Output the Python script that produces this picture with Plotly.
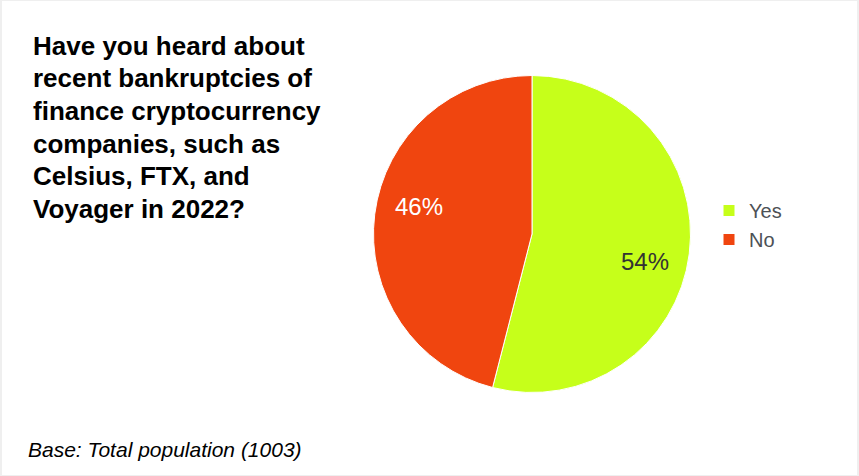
import math
import plotly.graph_objects as go

# ---- data ----
labels = ["Yes", "No"]
values = [54, 46]
colors = ["#c6ff1a", "#f0450f"]
label_colors = ["#333333", "#ffffff"]
title_lines = [
    "Have you heard about",
    "recent bankruptcies of",
    "finance cryptocurrency",
    "companies, such as",
    "Celsius, FTX, and",
    "Voyager in 2022?",
]
footer_text = "Base: Total population (1003)"

W, H = 859, 476
FONT = "Liberation Sans, Arial, sans-serif"


def px_x(x):
    return x / W


def px_y(y):
    return 1 - y / H


cx, cy, r = 532, 234, 158.5

fig = go.Figure(
    go.Pie(
        labels=labels,
        values=values,
        sort=False,
        direction="clockwise",
        rotation=0,
        marker=dict(colors=colors, line=dict(color="white", width=1)),
        textinfo="none",
        domain=dict(x=[px_x(cx - r), px_x(cx + r)], y=[px_y(cy + r), px_y(cy - r)]),
        hoverinfo="label+percent",
    )
)

annotations = []

# slice percentage labels placed along each slice's bisector (derived from values)
total = sum(values)
start = 0.0
label_r = 0.735 * r
angle_shift = 6.5  # degrees, label placement style
for v, col in zip(values, label_colors):
    frac = v / total
    mid = (start + frac / 2) * 360 + angle_shift
    start += frac
    lx = cx + label_r * math.sin(math.radians(mid))
    ly = cy - label_r * math.cos(math.radians(mid))
    annotations.append(
        dict(
            text=f"{round(frac * 100)}%",
            x=px_x(lx), y=px_y(ly),
            xref="paper", yref="paper",
            xanchor="center", yanchor="middle",
            showarrow=False,
            font=dict(family=FONT, size=24, color=col),
        )
    )

for i, line in enumerate(title_lines):
    baseline = 55 + i * 32.5
    annotations.append(
        dict(
            text=f"<b>{line}</b>",
            x=px_x(31), y=px_y(baseline - 9),
            xref="paper", yref="paper",
            xanchor="left", yanchor="middle",
            showarrow=False,
            font=dict(family=FONT, size=26, color="#000000"),
        )
    )
annotations.append(
    dict(
        text=f"<i>{footer_text}</i>",
        x=px_x(26), y=px_y(449),
        xref="paper", yref="paper",
        xanchor="left", yanchor="middle",
        showarrow=False,
        font=dict(family=FONT, size=21, color="#000000"),
    )
)

fig.update_layout(
    width=W,
    height=H,
    margin=dict(l=0, r=0, t=0, b=0),
    paper_bgcolor="#efefef",
    plot_bgcolor="white",
    showlegend=True,
    legend=dict(
        x=px_x(709), y=px_y(225),
        xanchor="left", yanchor="middle",
        font=dict(family=FONT, size=20, color="#4d5156"),
        bgcolor="rgba(0,0,0,0)",
        itemclick=False,
    ),
    annotations=annotations,
    shapes=[
        dict(
            type="rect", xref="paper", yref="paper",
            x0=px_x(2), x1=px_x(W - 2), y0=px_y(H - 1), y1=px_y(1),
            fillcolor="white", line=dict(width=0), layer="below",
        )
    ],
)

fig.write_html(
    "out.html",
    config={"displayModeBar": False},
    post_script="document.body.style.margin='0';document.body.style.overflow='hidden';",
)
